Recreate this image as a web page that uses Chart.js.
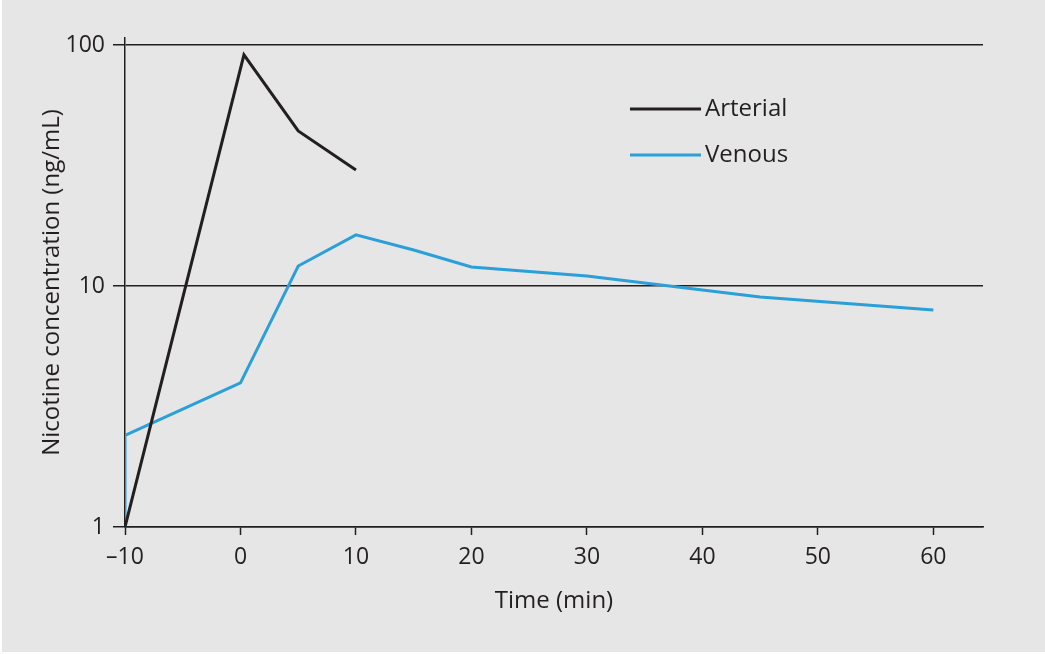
<!DOCTYPE html>
<html>
<head>
<meta charset="utf-8">
<script src="https://cdn.jsdelivr.net/npm/chart.js@4"></script>
<style>
  html, body { margin: 0; padding: 0; background: #ffffff; }
  #wrap { position: absolute; left: 2px; top: 0; width: 1043px; height: 652px; background: #e6e6e6; }
</style>
</head>
<body>
<div id="wrap"><canvas id="nicotineChart" width="1043" height="652"></canvas></div>
<script>
// ==============================
// DATA
// ==============================
const arterialTime = [-10, 0.3, 5, 10];
const arterialConc = [1, 91, 44, 30.3];

const venousTime = [-10, -10, 0, 5, 10, 15, 20, 30, 45, 60];
const venousConc = [1, 2.4, 3.96, 12.1, 16.3, 14.1, 12.0, 11.0, 9.0, 7.95];

const xTicks = [-10, 0, 10, 20, 30, 40, 50, 60];
const xTickLabels = ["\u201310", "0", "10", "20", "30", "40", "50", "60"];
const yTicks = [1, 10, 100];

const seriesNames = ["Arterial", "Venous"];
const inkColor = "#231f20";
const blueColor = "#2a9fd9";
const fontFamily = "'Open Sans', 'Noto Sans', sans-serif";

// ==============================
// LEGEND INSIDE THE PLOT
// ==============================
const insideLegend = {
  id: "insideLegend",
  afterDraw(chart) {
    const ctx = chart.ctx;
    ctx.save();
    ctx.font = "24px " + fontFamily;
    ctx.textBaseline = "middle";
    chart.data.datasets.forEach((ds, i) => {
      const y = 109 + i * 46;
      ctx.strokeStyle = ds.borderColor;
      ctx.lineWidth = 3;
      ctx.beginPath();
      ctx.moveTo(628, y);
      ctx.lineTo(699, y);
      ctx.stroke();
      ctx.fillStyle = inkColor;
      ctx.fillText(ds.label, 703, y);
    });
    ctx.restore();
  }
};

// ==============================
// CHART
// ==============================
new Chart(document.getElementById("nicotineChart"), {
  type: "line",
  data: {
    datasets: [
      {
        label: seriesNames[0],
        data: arterialTime.map((t, i) => ({ x: t, y: arterialConc[i] })),
        borderColor: inkColor,
        borderWidth: 3,
        pointRadius: 0,
        tension: 0
      },
      {
        label: seriesNames[1],
        data: venousTime.map((t, i) => ({ x: t, y: venousConc[i] })),
        borderColor: blueColor,
        borderWidth: 3,
        pointRadius: 0,
        tension: 0
      }
    ]
  },
  plugins: [insideLegend],
  options: {
    responsive: false,
    animation: false,
    layout: { padding: { left: 0, top: 38, right: 62, bottom: 0 } },
    plugins: {
      legend: { display: false },
      tooltip: { enabled: false }
    },
    scales: {
      x: {
        type: "linear",
        min: -10,
        max: 64.3,
        afterBuildTicks: scale => { scale.ticks = xTicks.map(v => ({ value: v })); },
        afterFit: scale => { scale.height = 125; },
        ticks: {
          color: inkColor,
          padding: 9,
          font: { family: fontFamily, size: 23 },
          callback: (v) => xTickLabels[xTicks.indexOf(v)]
        },
        grid: {
          drawOnChartArea: false,
          drawTicks: true,
          tickLength: 8,
          tickWidth: 1.5,
          tickColor: inkColor
        },
        border: { display: true, color: inkColor, width: 1.5 },
        title: {
          display: true,
          text: "Time (min)",
          color: inkColor,
          font: { family: fontFamily, size: 24 },
          padding: { top: 0, bottom: 36 }
        }
      },
      y: {
        type: "logarithmic",
        min: 1,
        max: 106.9,
        afterBuildTicks: scale => { scale.ticks = yTicks.map(v => ({ value: v })); },
        afterFit: scale => { scale.width = 123; },
        ticks: {
          color: inkColor,
          padding: 8,
          font: { family: fontFamily, size: 23 },
          callback: v => String(v)
        },
        grid: {
          drawOnChartArea: true,
          drawTicks: true,
          tickLength: 12,
          color: inkColor,
          lineWidth: 1.5
        },
        border: { display: true, color: inkColor, width: 1.5 },
        title: {
          display: true,
          text: "Nicotine concentration (ng/mL)",
          color: inkColor,
          font: { family: fontFamily, size: 24 },
          padding: { top: 36, bottom: 0 }
        }
      }
    }
  }
});
</script>
</body>
</html>
